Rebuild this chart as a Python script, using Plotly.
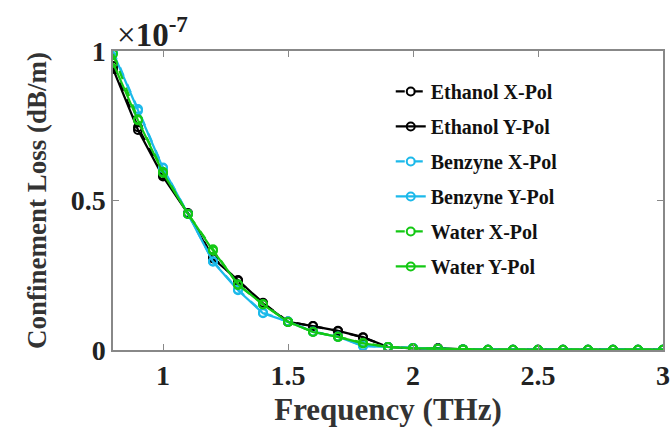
import plotly.graph_objects as go

freq = [0.8, 0.9, 1.0, 1.1, 1.2, 1.3, 1.4, 1.5, 1.6, 1.7, 1.8, 1.9, 2.0, 2.1, 2.2,
        2.3, 2.4, 2.5, 2.6, 2.7, 2.8, 2.9, 3.0]

# values in units of 1e-7 dB/m
ethanol_x = [0.95, 0.745, 0.585, 0.458, 0.310, 0.232, 0.158, 0.095, 0.080, 0.063, 0.042, 0.010,
             0.006, 0.006, 0.002, 0.001, 0.001, 0.001, 0.001, 0.001, 0.001, 0.001, 0.001]
ethanol_y = [0.94, 0.736, 0.580, 0.456, 0.306, 0.234, 0.156, 0.094, 0.080, 0.064, 0.043, 0.010,
             0.005, 0.006, 0.002, 0.001, 0.001, 0.001, 0.001, 0.001, 0.001, 0.001, 0.001]
benzyne_x = [1.0, 0.806, 0.610, 0.455, 0.297, 0.202, 0.125, 0.095, 0.062, 0.045, 0.014, 0.010,
             0.007, 0.004, 0.002, 0.001, 0.001, 0.001, 0.001, 0.001, 0.001, 0.001, 0.001]
benzyne_y = [0.995, 0.800, 0.608, 0.455, 0.295, 0.200, 0.123, 0.095, 0.060, 0.044, 0.013, 0.010,
             0.007, 0.004, 0.002, 0.001, 0.001, 0.001, 0.001, 0.001, 0.001, 0.001, 0.001]
water_x = [0.99, 0.772, 0.596, 0.455, 0.337, 0.217, 0.154, 0.094, 0.061, 0.044, 0.024, 0.010,
           0.006, 0.004, 0.002, 0.001, 0.001, 0.001, 0.001, 0.001, 0.001, 0.001, 0.001]
water_y = [0.96, 0.768, 0.592, 0.455, 0.332, 0.220, 0.152, 0.094, 0.060, 0.044, 0.022, 0.010,
           0.006, 0.004, 0.002, 0.001, 0.001, 0.001, 0.001, 0.001, 0.001, 0.001, 0.001]

x_ticks = [1, 1.5, 2, 2.5, 3]
x_tick_labels = ["1", "1.5", "2", "2.5", "3"]
y_ticks = [0, 0.5, 1]
y_tick_labels = ["0", "0.5", "1"]

series = [
    ("Ethanol X-Pol", ethanol_x, "#000000", "dash"),
    ("Ethanol Y-Pol", ethanol_y, "#000000", "solid"),
    ("Benzyne X-Pol", benzyne_x, "#1CB9EA", "dash"),
    ("Benzyne Y-Pol", benzyne_y, "#1CB9EA", "solid"),
    ("Water X-Pol", water_x, "#14C814", "dash"),
    ("Water Y-Pol", water_y, "#14C814", "solid"),
]

font_family = "Liberation Serif, Times New Roman, serif"

fig = go.Figure()
for i, (name, vals, color, dash) in enumerate(series):
    fig.add_trace(go.Scatter(
        x=freq, y=vals, name="<b>" + name + "</b>", mode="lines+markers",
        legendgroup="g%d" % i,
        line=dict(color=color, width=2.2, dash=dash),
        marker=dict(symbol="circle-open", size=8, color=color, line=dict(width=2, color=color)),
    ))

axis_common = dict(
    showline=True, linecolor="#888888", linewidth=1.5, mirror="ticks",
    ticks="inside", ticklen=6, tickcolor="#888888", showgrid=False, zeroline=False,
    tickfont=dict(family=font_family, size=28, color="#222222"),
)

fig.update_layout(
    width=672, height=433,
    margin=dict(l=113, r=9, t=51, b=83, autoexpand=False),
    paper_bgcolor="white", plot_bgcolor="white",
    font=dict(family=font_family, color="#222222"),
    showlegend=True,
    legend=dict(
        x=0.505, y=0.93, xanchor="left", yanchor="top",
        bgcolor="rgba(0,0,0,0)", borderwidth=0,
        font=dict(family=font_family, size=20, color="#111111"),
        tracegroupgap=6, itemwidth=30,
    ),
    xaxis=dict(
        range=[0.8, 3.0], tickvals=x_ticks, ticktext=["<b>%s</b>" % t for t in x_tick_labels],
        title=dict(text="<b>Frequency (THz)</b>", font=dict(family=font_family, size=31, color="#333333"), standoff=8),
        **axis_common,
    ),
    yaxis=dict(
        range=[0, 1.0], tickvals=y_ticks, ticktext=["<b>%s</b>" % t for t in y_tick_labels],
        title=dict(text="<b>Confinement Loss (dB/m)</b>", font=dict(family=font_family, size=27, color="#333333"), standoff=16),
        **axis_common,
    ),
)

fig.add_annotation(
    xref="paper", yref="paper", x=0.0, y=1.0, xanchor="left", yanchor="bottom",
    text="\u00d7<b>10</b><sup><b>-7</b></sup>", showarrow=False, yshift=-4, xshift=2,
    font=dict(family=font_family, size=33, color="#222222"),
)

fig.write_html("out.html")
